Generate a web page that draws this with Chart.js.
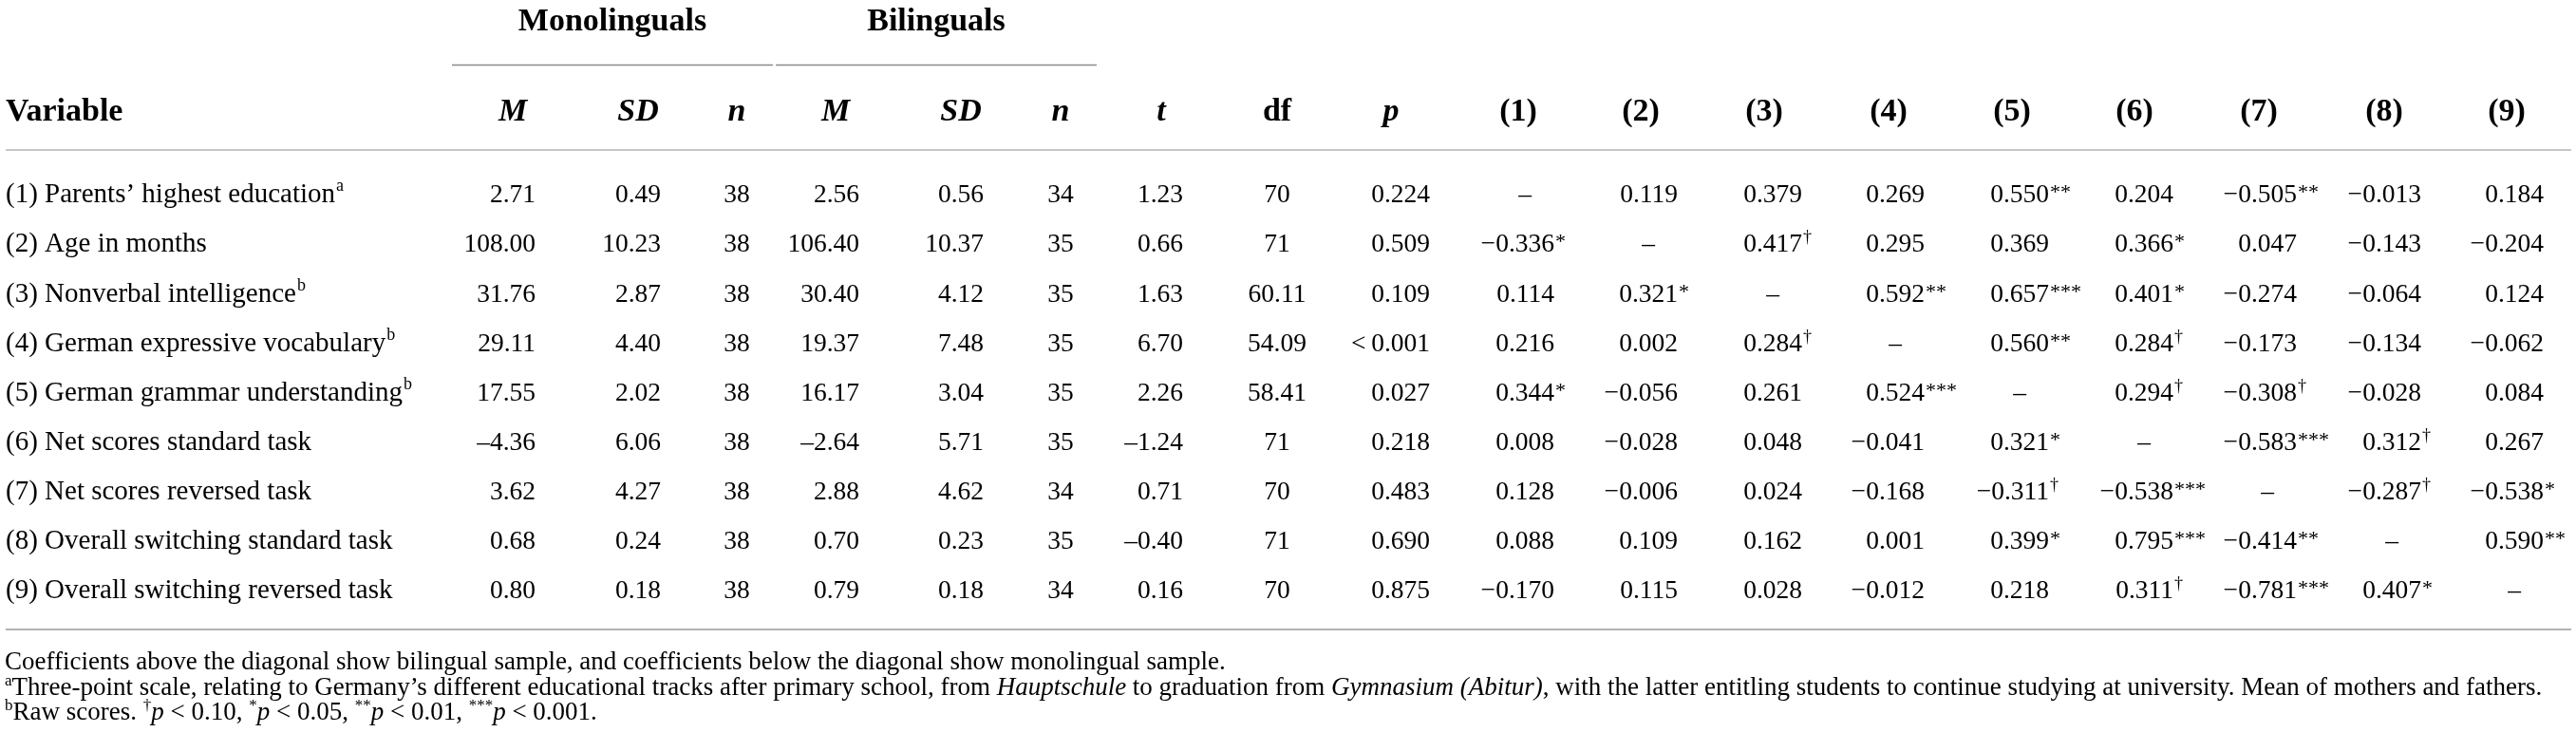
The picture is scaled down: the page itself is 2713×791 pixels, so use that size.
<!DOCTYPE html>
<html lang="en">
<head>
    <meta charset="UTF-8">
    <title>Descriptives, t-tests and correlations</title>
    <script src="https://cdn.jsdelivr.net/npm/chart.js"></script>
    <style>
        body { margin: 0; background: #fff; }
        #wrap { width: 2713px; height: 791px; }
    </style>
</head>
<body>
    <div id="wrap"><canvas id="tableChart" width="2713" height="791"></canvas></div>

    <script>
        const variables = [
            '(1) Parents\u2019 highest education',
            '(2) Age in months',
            '(3) Nonverbal intelligence',
            '(4) German expressive vocabulary',
            '(5) German grammar understanding',
            '(6) Net scores standard task',
            '(7) Net scores reversed task',
            '(8) Overall switching standard task',
            '(9) Overall switching reversed task'
        ];
        const variableNotes = ['a', '', 'b', 'b', 'b', '', '', '', ''];

        const monoM  = [2.71, 108.00, 31.76, 29.11, 17.55, -4.36, 3.62, 0.68, 0.80];
        const monoSD = [0.49, 10.23, 2.87, 4.40, 2.02, 6.06, 4.27, 0.24, 0.18];
        const monoN  = [38, 38, 38, 38, 38, 38, 38, 38, 38];
        const biM    = [2.56, 106.40, 30.40, 19.37, 16.17, -2.64, 2.88, 0.70, 0.79];
        const biSD   = [0.56, 10.37, 4.12, 7.48, 3.04, 5.71, 4.62, 0.23, 0.18];
        const biN    = [34, 35, 35, 35, 35, 35, 34, 35, 34];
        const tValues  = [1.23, 0.66, 1.63, 6.70, 2.26, -1.24, 0.71, -0.40, 0.16];
        const dfValues = [70, 71, 60.11, 54.09, 58.41, 71, 70, 71, 70];
        const pValues  = [0.224, 0.509, 0.109, '<0.001', 0.027, 0.218, 0.483, 0.690, 0.875];

        // above diagonal = bilinguals, below = monolinguals
        const corr = [
            [null, 0.119, 0.379, 0.269, 0.550, 0.204, -0.505, -0.013, 0.184],
            [-0.336, null, 0.417, 0.295, 0.369, 0.366, 0.047, -0.143, -0.204],
            [0.114, 0.321, null, 0.592, 0.657, 0.401, -0.274, -0.064, 0.124],
            [0.216, 0.002, 0.284, null, 0.560, 0.284, -0.173, -0.134, -0.062],
            [0.344, -0.056, 0.261, 0.524, null, 0.294, -0.308, -0.028, 0.084],
            [0.008, -0.028, 0.048, -0.041, 0.321, null, -0.583, 0.312, 0.267],
            [0.128, -0.006, 0.024, -0.168, -0.311, -0.538, null, -0.287, -0.538],
            [0.088, 0.109, 0.162, 0.001, 0.399, 0.795, -0.414, null, 0.590],
            [-0.170, 0.115, 0.028, -0.012, 0.218, 0.311, -0.781, 0.407, null]
        ];
        const sig = [
            ['', '', '', '', '**', '', '**', '', ''],
            ['*', '', '\u2020', '', '', '*', '', '', ''],
            ['', '*', '', '**', '***', '*', '', '', ''],
            ['', '', '\u2020', '', '**', '\u2020', '', '', ''],
            ['*', '', '', '***', '', '\u2020', '\u2020', '', ''],
            ['', '', '', '', '*', '', '***', '\u2020', ''],
            ['', '', '', '', '\u2020', '***', '', '\u2020', '*'],
            ['', '', '', '', '*', '***', '**', '', '**'],
            ['', '', '', '', '', '\u2020', '***', '*', '']
        ];

        const corrHeaders = ['(1)', '(2)', '(3)', '(4)', '(5)', '(6)', '(7)', '(8)', '(9)'];

        // ---- layout (reference pixels, x scale runs 0..2713) ----
        const SERIF = '"Liberation Serif", "Times New Roman", serif';
        const BODY = 27.5, LABEL = 29, HEAD = 34, NOTE = 27;
        const descCols = [
            { key: 'var',    x: 6,    align: 'left'   },
            { key: 'monoM',  x: 564,  align: 'right'  },
            { key: 'monoSD', x: 696,  align: 'right'  },
            { key: 'monoN',  x: 776,  align: 'center' },
            { key: 'biM',    x: 905,  align: 'right'  },
            { key: 'biSD',   x: 1036, align: 'right'  },
            { key: 'biN',    x: 1117, align: 'center' },
            { key: 't',      x: 1246, align: 'right'  },
            { key: 'df',     x: 1345, align: 'center' },
            { key: 'p',      x: 1506, align: 'right'  }
        ];
        const corrX = [1637, 1767, 1898, 2027, 2158, 2289, 2419, 2550, 2679];
        const headRow = [
            { t: 'Variable', x: 6, align: 'left' },
            { t: 'M', x: 540, it: true }, { t: 'SD', x: 672, it: true }, { t: 'n', x: 776, it: true },
            { t: 'M', x: 880, it: true }, { t: 'SD', x: 1012, it: true }, { t: 'n', x: 1117, it: true },
            { t: 't', x: 1223, it: true }, { t: 'df', x: 1345 }, { t: 'p', x: 1465, it: true }
        ];
        const corrHeadX = [1599, 1728, 1858, 1989, 2119, 2248, 2379, 2511, 2640];

        // ---- formatting ----
        const dash = '\u2013', minus = '\u2212';
        const f2 = v => (v < 0 ? dash : '') + Math.abs(v).toFixed(2);
        const f3 = v => (v < 0 ? minus : '') + Math.abs(v).toFixed(3);
        const fdf = v => Number.isInteger(v) ? String(v) : v.toFixed(2);
        const fp = v => typeof v === 'string' ? '<\u2009' + v.slice(1) : v.toFixed(3);

        const columnText = {
            var: variables.map((v, i) => ({ t: v, sup: variableNotes[i] })),
            monoM: monoM.map(v => ({ t: f2(v) })),
            monoSD: monoSD.map(v => ({ t: f2(v) })),
            monoN: monoN.map(v => ({ t: String(v) })),
            biM: biM.map(v => ({ t: f2(v) })),
            biSD: biSD.map(v => ({ t: f2(v) })),
            biN: biN.map(v => ({ t: String(v) })),
            t: tValues.map(v => ({ t: f2(v) })),
            df: dfValues.map(v => ({ t: fdf(v) })),
            p: pValues.map(v => ({ t: fp(v) }))
        };

        const datasets = descCols.map(c => ({
            label: c.key,
            align: c.align,
            cells: columnText[c.key],
            data: variables.map(v => ({ x: c.x, y: v }))
        }));
        corrX.forEach((x, j) => {
            datasets.push({
                label: corrHeaders[j],
                align: 'right',
                cells: corr.map((row, i) => row[j] === null ? { t: dash, diag: true } : { t: f3(row[j]), sup: sig[i][j] }),
                data: variables.map(v => ({ x: x, y: v }))
            });
        });

        function font(size, bold, italic) {
            return (italic ? 'italic ' : '') + (bold ? 'bold ' : '') + size + 'px ' + SERIF;
        }

        function drawSup(ctx, text, x, y) {
            if (!text) return;
            const isDagger = text === '\u2020';
            ctx.font = font(isDagger ? 18 : 22, false, false);
            ctx.textAlign = 'left';
            ctx.fillText(text, x + 1, y - (isDagger ? 10 : 4));
        }

        // draws runs [{t, it, sup}] starting at x
        function drawRuns(ctx, runs, x, y, size) {
            let cx = x;
            ctx.textAlign = 'left';
            runs.forEach(r => {
                if (r.sup) {
                    ctx.font = font(Math.round(size * 0.64), false, false);
                    ctx.fillText(r.t, cx, y - size * 0.36);
                } else {
                    ctx.font = font(size, false, r.it);
                    ctx.fillText(r.t, cx, y);
                }
                cx += ctx.measureText(r.t).width;
            });
            return cx - x;
        }

        const footnotes = [
            [{ t: 'Coefficients above the diagonal show bilingual sample, and coefficients below the diagonal show monolingual sample.' }],
            [{ t: 'a', sup: true }, { t: 'Three-point scale, relating to Germany\u2019s different educational tracks after primary school, from ' },
             { t: 'Hauptschule', it: true }, { t: ' to graduation from ' }, { t: 'Gymnasium (Abitur)', it: true },
             { t: ', with the latter entitling students to continue studying at university. Mean of mothers and fathers.' }],
            [{ t: 'b', sup: true }, { t: 'Raw scores. ' }, { t: '\u2020', sup: true }, { t: 'p', it: true }, { t: ' < 0.10, ' },
             { t: '*', sup: true }, { t: 'p', it: true }, { t: ' < 0.05, ' }, { t: '**', sup: true }, { t: 'p', it: true },
             { t: ' < 0.01, ' }, { t: '***', sup: true }, { t: 'p', it: true }, { t: ' < 0.001.' }]
        ];

        const tablePlugin = {
            id: 'tableText',
            afterDatasetsDraw(chart) {
                const ctx = chart.ctx;
                const xs = chart.scales.x;
                const px = v => xs.getPixelForValue(v);
                ctx.save();
                ctx.fillStyle = '#000';
                ctx.textBaseline = 'alphabetic';

                // group headers
                ctx.font = font(HEAD, true, false);
                ctx.textAlign = 'center';
                ctx.fillText('Monolinguals', px(645), 32);
                ctx.fillText('Bilinguals', px(986), 32);

                // rules
                ctx.lineWidth = 1.6;
                ctx.strokeStyle = '#8a8a8a';
                ctx.beginPath();
                ctx.moveTo(px(476), 68.5); ctx.lineTo(px(814), 68.5);
                ctx.moveTo(px(817), 68.5); ctx.lineTo(px(1155), 68.5);
                ctx.stroke();
                ctx.lineWidth = 2;
                ctx.strokeStyle = '#c6c6c6';
                ctx.beginPath();
                ctx.moveTo(px(6), 158); ctx.lineTo(px(2708), 158);
                ctx.stroke();
                ctx.lineWidth = 1.6;
                ctx.strokeStyle = '#9a9a9a';
                ctx.beginPath();
                ctx.moveTo(px(6), 663); ctx.lineTo(px(2708), 663);
                ctx.stroke();

                // column headers
                headRow.forEach(h => {
                    ctx.font = font(HEAD, true, h.it);
                    ctx.textAlign = h.align || 'center';
                    ctx.fillText(h.t, px(h.x), 127);
                });
                corrHeaders.forEach((h, j) => {
                    ctx.font = font(HEAD, true, false);
                    ctx.textAlign = 'center';
                    ctx.fillText(h, px(corrHeadX[j]), 127);
                });

                // cells, positioned by the scatter points
                ctx.font = font(BODY, false, false);
                const zeroHalf = ctx.measureText('0.000').width / 2;
                chart.data.datasets.forEach((ds, i) => {
                    chart.getDatasetMeta(i).data.forEach((el, r) => {
                        const cell = ds.cells[r];
                        const y = el.y + BODY * 0.3;
                        const isLabel = ds.label === 'var';
                        ctx.font = font(isLabel ? LABEL : BODY, false, false);
                        if (cell.diag) {
                            ctx.textAlign = 'center';
                            ctx.fillText(cell.t, el.x - zeroHalf, y);
                            return;
                        }
                        ctx.textAlign = ds.align;
                        ctx.fillText(cell.t, el.x, y);
                        const w = ctx.measureText(cell.t).width;
                        const endX = ds.align === 'right' ? el.x : ds.align === 'center' ? el.x + w / 2 : el.x + w;
                        if (isLabel && cell.sup) {
                            ctx.font = font(18, false, false);
                            ctx.textAlign = 'left';
                            ctx.fillText(cell.sup, endX + 1, y - 12);
                        } else {
                            drawSup(ctx, cell.sup, endX, y);
                        }
                    });
                });

                // footnotes
                const noteY = [705, 732, 758];
                footnotes.forEach((runs, k) => drawRuns(ctx, runs, px(5), noteY[k], NOTE));

                ctx.restore();
            }
        };

        new Chart(document.getElementById('tableChart'), {
            type: 'scatter',
            data: { datasets: datasets },
            options: {
                responsive: false,
                devicePixelRatio: 1,
                animation: false,
                layout: { padding: { top: 179, bottom: 143, left: 0, right: 0 } },
                elements: { point: { radius: 0, hoverRadius: 0 } },
                plugins: { legend: { display: false }, tooltip: { enabled: false } },
                scales: {
                    x: { type: 'linear', min: 0, max: 2713, display: false },
                    y: { type: 'category', labels: variables, offset: true, display: false }
                }
            },
            plugins: [tablePlugin]
        });
    </script>
</body>
</html>
